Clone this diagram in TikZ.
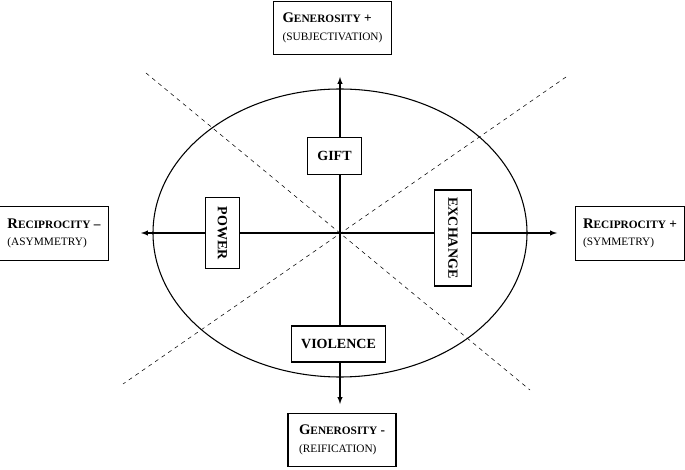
\documentclass[tikz,border=0pt]{standalone}
\usepackage{fontspec}
\setmainfont{Liberation Serif}
\usepackage{tikz}
\newcommand{\fsc}[2]{{\fontsize{11}{13}\selectfont #1}{\fontsize{8.5}{10}\selectfont #2}}
\tikzset{
	pole/.style={draw,thick,minimum height=40pt,align=left,inner xsep=6pt},
	mode/.style={draw,thick,inner sep=5pt,font=\bfseries\fontsize{10.5}{12}\selectfont},
	axis/.style={thick,-latex},
	cut/.style={dashed,thin}
}
\begin{document}
\begin{tikzpicture}[x=0.75pt,y=-0.75pt]
	\useasboundingbox (0,0) rectangle (685,470);
	\coordinate (o) at (340,233);
	\draw[thick] (o) ellipse [x radius=187, y radius=144];
	\draw[cut] (146,73) -- (530,390);
	\draw[cut] (566,77) -- (123,384);
	\coordinate (top) at (340,77);
	\coordinate (bot) at (340,404);
	\coordinate (lft) at (141,233);
	\coordinate (rgt) at (557,233);
	\draw[axis] (o) -- (top);
	\draw[axis] (o) -- (bot);
	\draw[axis] (o) -- (lft);
	\draw[axis] (o) -- (rgt);

	\node[pole,minimum width=88pt] (genp) at (332.5,28) {\textbf{\fsc{G}{ENEROSITY} +}\\[1pt]{\fontsize{8.5}{10}\selectfont (SUBJECTIVATION)}};
	\node[pole,minimum width=81pt] (genm) at (342,440) {\textbf{\fsc{G}{ENEROSITY} -}\\[1pt]{\fontsize{8.5}{10}\selectfont (REIFICATION)}};
	\node[pole,minimum width=81pt] (recm) at (54,233.5) {\textbf{\fsc{R}{ECIPROCITY} –}\\[1pt]{\fontsize{8.5}{10}\selectfont (ASYMMETRY)}};
	\node[pole,minimum width=81pt] (recp) at (630,233.5) {\textbf{\fsc{R}{ECIPROCITY} +}\\[1pt]{\fontsize{8.5}{10}\selectfont (SYMMETRY)}};

	\node[mode,fill=white,minimum width=41pt,minimum height=28pt] (gift) at (334.5,156) {GIFT};
	\node[mode,fill=white,minimum width=70pt,minimum height=27pt] (violence) at (338.5,344) {VIOLENCE};
	\node[mode,fill=white,rotate=-90,minimum width=53pt,minimum height=26pt] (power) at (222.5,233) {POWER};
	\node[mode,fill=white,rotate=-90,minimum width=72pt,minimum height=28pt] (exchange) at (453,238) {EXCHANGE};
\end{tikzpicture}
\end{document}
